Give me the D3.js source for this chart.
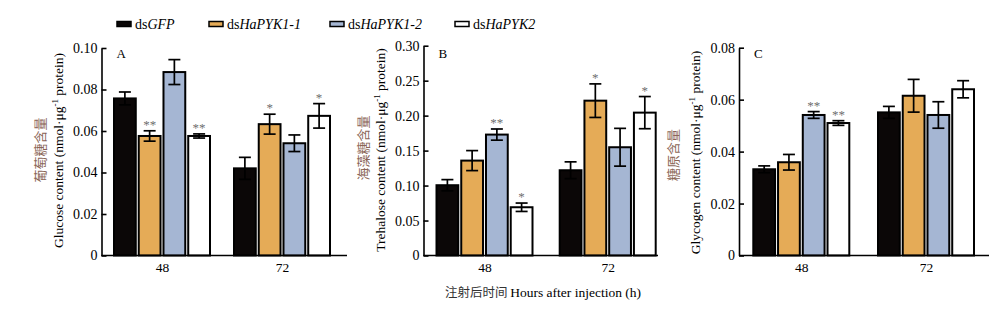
<!DOCTYPE html>
<html>
<head>
<meta charset="utf-8">
<script src="https://cdn.jsdelivr.net/npm/d3@7/dist/d3.min.js"></script>
<style>
  body { margin: 0; background: #fff; }
  svg text { font-family: "Liberation Serif", "Times New Roman", serif; }
  .cn { font-family: "Noto Sans CJK SC", sans-serif; }
</style>
</head>
<body>
<script>
// hours after injection, and the four dsRNA treatments
const hours = ["48", "72"];
const treatments = ["dsGFP", "dsHaPYK1-1", "dsHaPYK1-2", "dsHaPYK2"];
const fills = ["#0b0707", "#e5ab57", "#a5b6d3", "#ffffff"];

// glucose (nmol/ug protein), rows = 48 h, 72 h
const glucoseMean = [[0.0757, 0.0576, 0.0884, 0.0576], [0.0420, 0.0633, 0.0541, 0.0673]];
const glucoseErr  = [[0.0031, 0.0025, 0.0060, 0.0010], [0.0053, 0.0048, 0.0040, 0.0059]];
const glucoseSig  = [["", "**", "", "**"], ["", "*", "", "*"]];

// trehalose
const trehaloseMean = [[0.1005, 0.1357, 0.1729, 0.0690], [0.1219, 0.2214, 0.1548, 0.2043]];
const trehaloseErr  = [[0.0080, 0.0143, 0.0080, 0.0060], [0.0120, 0.0240, 0.0270, 0.0230]];
const trehaloseSig  = [["", "", "**", "*"], ["", "*", "", "*"]];

// glycogen
const glycogenMean = [[0.0332, 0.0359, 0.0541, 0.0510], [0.0551, 0.0615, 0.0541, 0.0640]];
const glycogenErr  = [[0.0013, 0.0030, 0.0013, 0.0009], [0.0023, 0.0063, 0.0051, 0.0033]];
const glycogenSig  = [["", "", "**", "**"], ["", "", "", ""]];

const glucoseTicks = [0, 0.02, 0.04, 0.06, 0.08, 0.10];
const trehaloseTicks = [0, 0.05, 0.10, 0.15, 0.20, 0.25, 0.30];
const glycogenTicks = [0, 0.02, 0.04, 0.06, 0.08];

const W = 1000, H = 326;
const svg = d3.select("body").append("svg")
  .attr("width", W)
  .attr("height", H);

const panels = [
  { letter: "A", mean: glucoseMean, err: glucoseErr, sig: glucoseSig, ticks: glucoseTicks,
    cn: "葡萄糖含量", en: "Glucose content (nmol·μg", x0: 101.5, x1: 347, top: 48, centers: [162, 282],
    cnX: 40, enX: 58, cnY: 150, enY: 150.5 },
  { letter: "B", mean: trehaloseMean, err: trehaloseErr, sig: trehaloseSig, ticks: trehaloseTicks,
    cn: "海藻糖含量", en: "Trehalose content (nmol·μg", x0: 423.5, x1: 658, top: 45.7, centers: [484.5, 607.7],
    cnX: 363, enX: 380, cnY: 148, enY: 150 },
  { letter: "C", mean: glycogenMean, err: glycogenErr, sig: glycogenSig, ticks: glycogenTicks,
    cn: "糖原含量", en: "Glycogen content (nmol·μg", x0: 739, x1: 989, top: 47.7, centers: [801.3, 926],
    cnX: 673, enX: 695, cnY: 155, enY: 152.5 }
];
const zeroY = 255.5;
const fmt = d => d === 0 ? "0" : d3.format(".2f")(d);

panels.forEach(p => {
  const g = svg.append("g");
  const y = d3.scaleLinear()
    .domain([0, d3.max(p.ticks)])
    .range([zeroY, p.top]);
  const x = d3.scalePoint().domain(hours).range(p.centers);
  const xs = d3.scaleBand().domain(treatments).range([-48, 48]).paddingInner(0.12);

  hours.forEach((h, gi) => {
    const grp = g.append("g").attr("transform", `translate(${x(h)},0)`);
    const rows = treatments.map((t, i) => ({
      t, i, v: p.mean[gi][i], e: p.err[gi][i], s: p.sig[gi][i]
    }));

    grp.selectAll("rect")
      .data(rows)
      .enter()
      .append("rect")
      .attr("x", d => xs(d.t))
      .attr("y", d => y(d.v))
      .attr("width", xs.bandwidth())
      .attr("height", d => zeroY - y(d.v))
      .attr("fill", d => fills[d.i])
      .attr("stroke", "#000")
      .attr("stroke-width", 2);

    // error bars
    const eb = grp.selectAll("g.eb")
      .data(rows)
      .enter()
      .append("g")
      .attr("class", "eb")
      .attr("stroke", "#000")
      .attr("stroke-width", 1.7);
    eb.append("line")
      .attr("x1", d => xs(d.t) + xs.bandwidth() / 2)
      .attr("x2", d => xs(d.t) + xs.bandwidth() / 2)
      .attr("y1", d => y(d.v - d.e))
      .attr("y2", d => y(d.v + d.e));
    [1, -1].forEach(sgn => {
      eb.append("line")
        .attr("x1", d => xs(d.t) + xs.bandwidth() / 2 - 6)
        .attr("x2", d => xs(d.t) + xs.bandwidth() / 2 + 6)
        .attr("y1", d => y(d.v + sgn * d.e))
        .attr("y2", d => y(d.v + sgn * d.e));
    });

    // significance marks
    grp.selectAll("text.sig")
      .data(rows.filter(d => d.s))
      .enter()
      .append("text")
      .attr("class", "sig")
      .attr("x", d => xs(d.t) + xs.bandwidth() / 2)
      .attr("y", d => y(d.v + d.e) - 2)
      .attr("text-anchor", "middle")
      .attr("font-size", 13)
      .attr("fill", "#6e6e6e")
      .text(d => d.s);
  });

  // y axis with inward ticks
  const yAxis = d3.axisLeft(y)
    .tickValues(p.ticks)
    .tickFormat(fmt)
    .tickSizeInner(-5)
    .tickSizeOuter(0)
    .tickPadding(4);
  const ya = g.append("g")
    .attr("transform", `translate(${p.x0},0)`)
    .call(yAxis);
  ya.selectAll("path, line").attr("stroke", "#000").attr("stroke-width", 1.6);
  ya.selectAll("text").attr("font-size", 14).attr("fill", "#000")
    .style("font-family", '"Liberation Serif", serif');

  // x axis baseline and category labels
  g.append("line")
    .attr("x1", p.x0)
    .attr("x2", p.x1)
    .attr("y1", zeroY)
    .attr("y2", zeroY)
    .attr("stroke", "#000")
    .attr("stroke-width", 1.6);
  const xa = g.append("g")
    .attr("transform", `translate(0,${zeroY})`)
    .call(d3.axisBottom(x).tickSize(0).tickPadding(7));
  xa.select(".domain").remove();
  xa.selectAll("text").attr("font-size", 13.5).attr("fill", "#000")
    .style("font-family", '"Liberation Serif", serif');

  // panel letter
  g.append("text")
    .attr("x", p.x0 + 15)
    .attr("y", 58)
    .attr("font-size", 13)
    .text(p.letter);

  // y titles: Chinese line and English line
  g.append("text")
    .attr("class", "cn")
    .attr("transform", `translate(${p.cnX + 5},${p.cnY}) rotate(-90)`)
    .attr("text-anchor", "middle")
    .attr("font-size", 13)
    .attr("fill", "#8a6656")
    .text(p.cn);
  const en = g.append("text")
    .attr("transform", `translate(${p.enX + 5},${p.enY}) rotate(-90)`)
    .attr("text-anchor", "middle")
    .attr("font-size", 13.5)
    .attr("fill", "#000");
  en.append("tspan").text(p.en);
  en.append("tspan").attr("dy", -5).attr("font-size", 9).text("-1");
  en.append("tspan").attr("dy", 5).text(" protein)");
});

// x axis title
const xt = svg.append("text")
  .attr("x", 543)
  .attr("y", 297)
  .attr("text-anchor", "middle")
  .attr("font-size", 13.5);
xt.append("tspan").attr("class", "cn").attr("font-size", 12.5).attr("fill", "#333").text("注射后时间 ");
xt.append("tspan").text("Hours after injection (h)");

// legend
const legendX = [117, 209, 330, 455];
const legend = svg.append("g");
treatments.forEach((t, i) => {
  legend.append("rect")
    .attr("x", legendX[i])
    .attr("y", 21.5)
    .attr("width", 14)
    .attr("height", 5)
    .attr("fill", fills[i])
    .attr("stroke", "#000")
    .attr("stroke-width", 1.5);
  const lt = legend.append("text")
    .attr("x", legendX[i] + 18)
    .attr("y", 29)
    .attr("font-size", 14);
  lt.append("tspan").text("ds");
  lt.append("tspan").attr("font-style", "italic").text(t.slice(2));
});
</script>
</body>
</html>
